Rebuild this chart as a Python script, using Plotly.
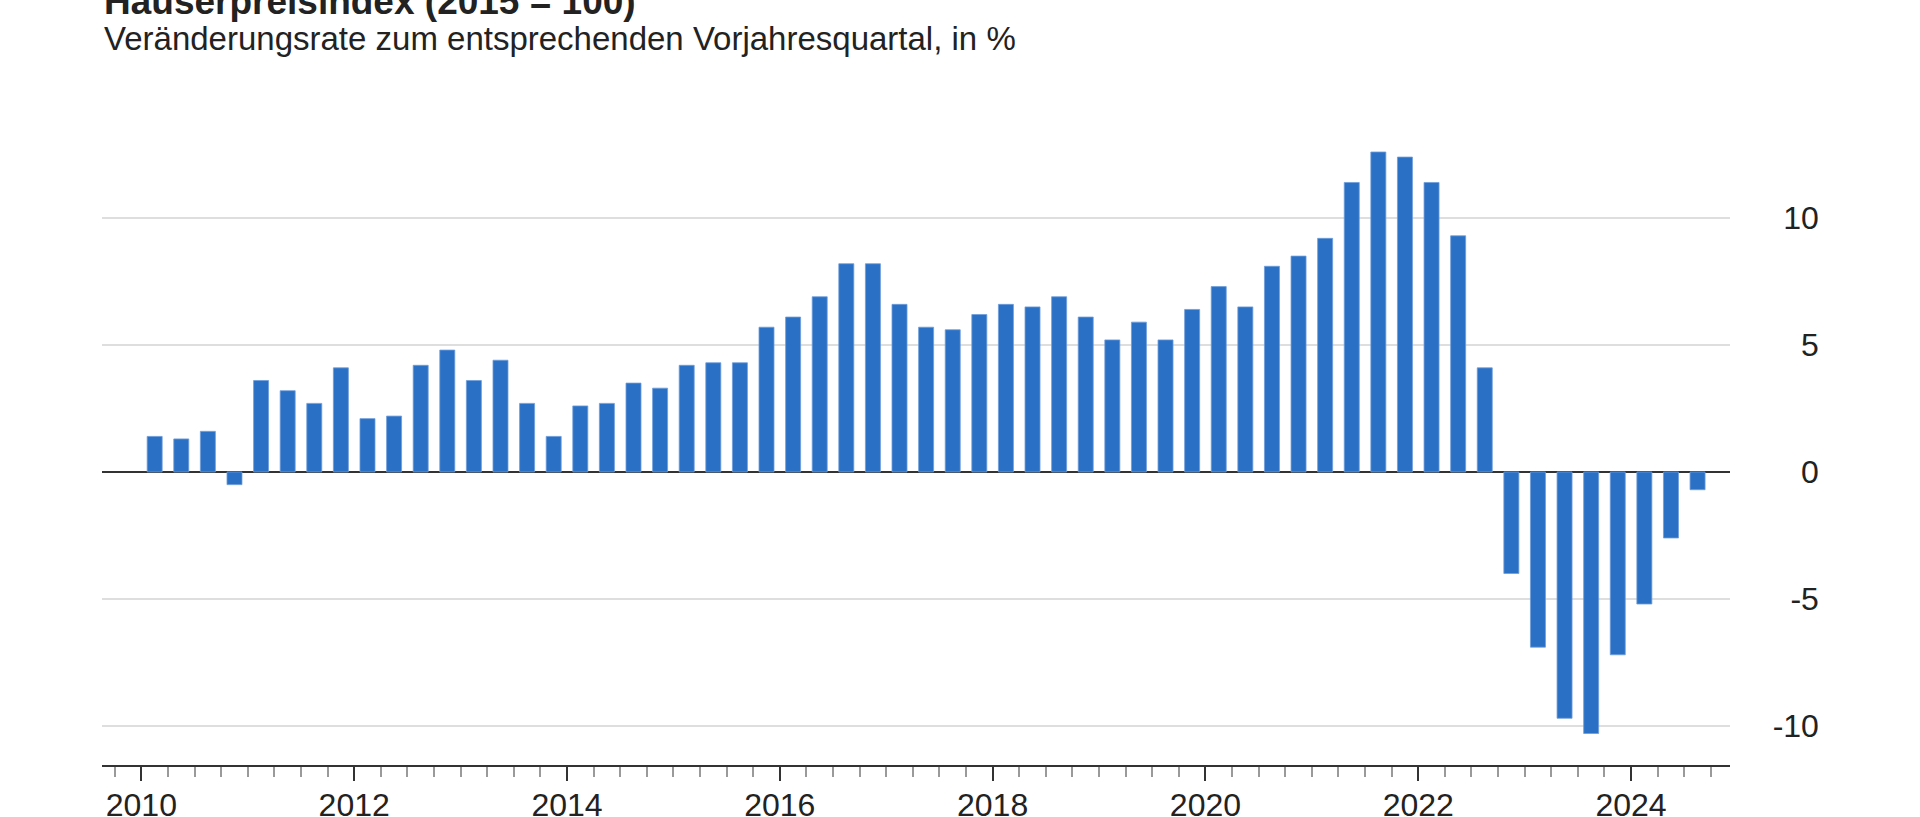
import plotly.graph_objects as go

# Häuserpreisindex, Veränderung zum Vorjahresquartal in %
jahre = list(range(2010, 2025))
werte = [
    1.4, 1.3, 1.6, -0.5,     # 2010
    3.6, 3.2, 2.7, 4.1,      # 2011
    2.1, 2.2, 4.2, 4.8,      # 2012
    3.6, 4.4, 2.7, 1.4,      # 2013
    2.6, 2.7, 3.5, 3.3,      # 2014
    4.2, 4.3, 4.3, 5.7,      # 2015
    6.1, 6.9, 8.2, 8.2,      # 2016
    6.6, 5.7, 5.6, 6.2,      # 2017
    6.6, 6.5, 6.9, 6.1,      # 2018
    5.2, 5.9, 5.2, 6.4,      # 2019
    7.3, 6.5, 8.1, 8.5,      # 2020
    9.2, 11.4, 12.6, 12.4,   # 2021
    11.4, 9.3, 4.1, -4.0,    # 2022
    -6.9, -9.7, -10.3, -7.2, # 2023
    -5.2, -2.6, -0.7,        # 2024
]
quartale = [f"{j} Q{q}" for j in jahre for q in range(1, 5)][:len(werte)]

y_ticks = [-10, -5, 0, 5, 10]
y_labels = ["-10", "-5", "0", "5", "10"]

# Balken in der Mitte des jeweiligen Quartals
x = [int(s[:4]) + (int(s[-1]) - 0.5) / 4 for s in quartale]

FONT = "Liberation Sans, Arial, Helvetica, sans-serif"
BLAU = "#2a70c5"

fig = go.Figure(go.Bar(
    x=x,
    y=werte,
    width=0.141,
    marker=dict(color=BLAU, line=dict(color="#6f9ddb", width=0.8)),
    hovertext=quartale,
))

fig.update_layout(
    width=1920,
    height=817,
    margin=dict(l=102, r=0, t=120, b=52),
    paper_bgcolor="white",
    plot_bgcolor="white",
    showlegend=False,
    font=dict(family=FONT, color="#222222"),
    xaxis=dict(
        domain=[0, 0.8955],
        range=[2009.63, 2024.93],
        tick0=2010,
        dtick=2,
        ticks="outside",
        ticklen=14,
        tickwidth=2,
        tickcolor="#333333",
        minor=dict(dtick=0.25, tick0=2010, ticks="outside", ticklen=10,
                   tickwidth=2, tickcolor="#9a9a9a"),
        showline=True,
        linecolor="#333333",
        linewidth=2,
        showgrid=False,
        zeroline=False,
        tickfont=dict(size=32, color="#222222"),
        ticklabelstandoff=-3,
        automargin=False,
    ),
    yaxis=dict(
        anchor="free",
        position=0.9444,
        side="left",
        range=[-11.54, 13.86],
        tickvals=y_ticks,
        ticktext=y_labels,
        ticks="",
        showgrid=True,
        gridcolor="#dedede",
        gridwidth=2,
        zeroline=True,
        zerolinecolor="#333333",
        zerolinewidth=2,
        showline=False,
        tickfont=dict(size=32, color="#222222"),
        automargin=False,
    ),
    annotations=[
        dict(text="<b>Häuserpreisindex (2015 = 100)</b>", xref="paper", yref="paper",
             x=0, y=1.183, xanchor="left", yanchor="middle", showarrow=False,
             font=dict(size=37, color="#222222")),
        dict(text="Veränderungsrate zum entsprechenden Vorjahresquartal, in %",
             xref="paper", yref="paper", x=0, y=1.1256, xanchor="left",
             yanchor="middle", showarrow=False,
             font=dict(size=33, color="#222222")),
    ],
)

# ohne den Standardrand des Browsers, damit die Grafik bei 0,0 beginnt
fig.write_html("out.html", config={"displayModeBar": False},
               post_script="document.body.style.margin = '0';")
